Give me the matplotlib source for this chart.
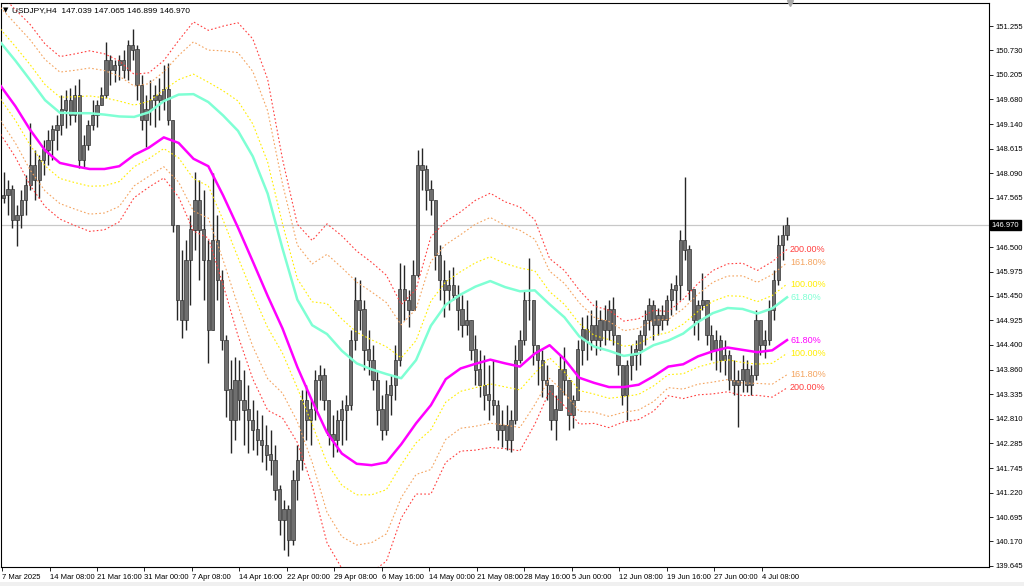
import numpy as np
import matplotlib.pyplot as plt
import matplotlib.transforms as mtransforms
from matplotlib.patches import Rectangle

plt.rcParams['font.family'] = ['Liberation Sans', 'DejaVu Sans']

# USDJPY H4, drawn as candles of 3 H4 bars each
first_open = 147.55
highs = [148.11, 147.94, 147.83, 147.40, 147.73, 148.05, 149.17, 148.59, 148.48, 148.80,
         149.02, 149.12, 149.34, 149.77, 149.88, 149.92, 149.98, 150.11, 148.91, 149.23,
         149.66, 149.66, 149.94, 150.91, 150.63, 150.52, 150.63, 150.74, 150.95, 151.19,
         150.84, 150.20, 149.77, 150.09, 149.98, 150.13, 150.41, 150.46, 149.23, 146.87,
         146.44, 146.65, 147.19, 148.11, 147.94, 147.73, 146.65, 148.09, 147.19, 146.01,
         144.61, 144.07, 144.13, 144.07, 143.86, 143.53, 143.21, 143.00, 142.89, 142.67,
         142.57, 142.24, 141.38, 141.06, 140.95, 141.71, 142.24, 143.43, 143.53, 143.21,
         143.86, 143.96, 143.90, 143.21, 142.89, 143.00, 143.21, 143.32, 144.72, 145.85,
         145.79, 145.36, 144.72, 144.39, 143.86, 143.32, 143.64, 143.75, 144.39, 146.16,
         146.11, 145.58, 146.22, 148.59, 148.63, 148.26, 147.94, 147.51, 146.54, 146.22,
         146.01, 146.07, 145.68, 145.47, 145.36, 144.93, 144.61, 144.29, 144.18, 143.96,
         144.07, 143.21, 143.00, 143.10, 143.00, 144.39, 144.72, 145.58, 146.26, 145.36,
         144.39, 144.29, 143.96, 143.53, 143.32, 144.18, 144.35, 143.64, 143.32, 144.50,
         144.99, 145.04, 145.15, 145.36, 145.15, 145.25, 145.36, 145.42, 144.61, 143.96,
         144.07, 144.39, 144.50, 144.72, 145.15, 145.40, 145.36, 145.19, 145.25, 145.47,
         145.73, 145.90, 146.87, 148.01, 146.54, 145.58, 145.36, 145.94, 145.36, 144.82,
         144.72, 144.61, 144.50, 144.29, 144.07, 143.86, 144.18, 144.07, 143.96, 145.15,
         144.93, 144.72, 145.36, 146.01, 146.76, 146.97, 147.14]
lows = [147.45, 147.19, 146.91, 146.52, 146.91, 147.19, 147.73, 147.51, 147.55, 148.05,
        148.26, 148.37, 148.59, 148.91, 149.06, 149.12, 149.19, 148.20, 148.20, 148.59,
        149.02, 149.08, 149.55, 149.70, 149.98, 150.05, 150.09, 150.13, 150.09, 150.52,
        149.66, 149.02, 148.65, 149.12, 149.08, 149.23, 149.45, 149.12, 146.82, 144.93,
        144.54, 144.72, 145.25, 146.44, 145.79, 145.36, 144.01, 144.72, 145.36, 144.29,
        142.84, 142.07, 142.35, 142.78, 142.24, 142.07, 142.14, 142.03, 141.88, 141.71,
        141.60, 141.06, 140.31, 139.99, 139.86, 140.09, 141.06, 141.71, 142.35, 142.24,
        142.78, 143.21, 143.00, 142.24, 141.98, 142.09, 142.24, 142.35, 143.00, 144.29,
        144.72, 143.86, 143.75, 143.43, 142.67, 142.35, 142.46, 142.89, 143.21, 143.95,
        144.93, 144.78, 145.15, 145.85, 147.73, 147.30, 147.19, 146.01, 145.36, 144.99,
        145.15, 145.36, 144.72, 144.56, 144.61, 144.07, 143.53, 143.27, 143.00, 142.78,
        142.89, 142.35, 142.20, 142.14, 142.09, 142.70, 144.01, 144.39, 144.93, 143.96,
        143.53, 143.27, 143.21, 142.57, 142.35, 143.00, 143.32, 142.57, 142.61, 143.21,
        143.96, 144.07, 144.29, 144.18, 144.29, 144.39, 144.50, 144.39, 143.75, 143.10,
        142.78, 143.64, 143.86, 143.96, 144.39, 144.72, 144.50, 144.61, 144.72, 144.82,
        145.04, 145.15, 145.36, 146.22, 145.36, 144.61, 144.50, 145.15, 144.39, 144.07,
        143.86, 143.81, 143.75, 143.43, 143.32, 142.63, 143.38, 143.38, 143.32, 143.64,
        144.18, 144.11, 144.39, 144.93, 145.68, 146.22, 146.65]
closes = [147.62, 147.73, 147.08, 147.19, 147.51, 147.83, 148.26, 147.94, 148.37, 148.59,
          148.80, 149.02, 149.12, 149.45, 149.66, 149.34, 149.77, 148.37, 148.69, 149.12,
          149.34, 149.55, 149.77, 150.52, 150.31, 150.41, 150.52, 150.31, 150.84, 150.74,
          149.98, 149.23, 149.45, 149.66, 149.77, 149.66, 149.88, 149.23, 146.97, 145.36,
          144.93, 146.22, 146.87, 147.51, 146.87, 146.22, 144.72, 146.65, 145.79, 144.50,
          143.43, 142.78, 143.64, 143.21, 143.00, 142.78, 142.57, 142.35, 142.24, 142.03,
          141.92, 141.28, 140.63, 140.85, 140.20, 141.49, 141.92, 143.21, 142.78, 143.00,
          143.64, 143.75, 143.21, 142.46, 142.35, 142.78, 143.00, 143.10, 144.50, 145.36,
          145.15, 144.29, 144.07, 143.64, 143.00, 142.57, 143.32, 143.53, 144.07, 145.58,
          145.36, 145.15, 145.90, 148.26, 148.16, 147.73, 147.51, 146.33, 145.79, 145.58,
          145.68, 145.47, 145.15, 144.82, 144.93, 144.29, 143.86, 143.53, 143.32, 143.21,
          143.10, 142.57, 142.67, 142.35, 142.78, 144.07, 144.50, 145.36, 145.36, 144.39,
          144.07, 143.64, 143.53, 142.78, 143.00, 143.86, 143.64, 142.89, 143.21, 144.29,
          144.72, 144.50, 144.82, 144.50, 144.93, 144.72, 145.15, 144.61, 143.96, 143.32,
          143.96, 144.18, 144.29, 144.61, 144.93, 145.25, 144.82, 145.04, 144.93, 145.36,
          145.58, 145.68, 146.65, 146.44, 145.58, 144.93, 145.25, 145.36, 144.61, 144.29,
          144.50, 144.07, 144.18, 143.64, 143.53, 143.64, 143.86, 143.53, 143.75, 144.93,
          144.39, 144.50, 145.15, 145.79, 146.54, 146.76, 146.97]
last_price = 146.970

# moving-average channel lines (bar index, price)
ma_idx = list(range(-1, 530, 10))
ma_upper = [150.90, 150.51, 150.09, 149.66, 149.39, 149.38, 149.38, 149.35, 149.31, 149.30,
            149.40, 149.64, 149.78, 149.79, 149.62, 149.33, 149.00, 148.45, 147.65, 146.47,
            145.37, 144.82, 144.63, 144.27, 144.00, 143.87, 143.77, 143.68, 144.07, 144.81,
            145.26, 145.48, 145.65, 145.77, 145.64, 145.55, 145.57, 145.27, 144.99, 144.58,
            144.36, 144.27, 144.16, 144.21, 144.39, 144.49, 144.64, 144.89, 145.08, 145.19,
            145.17, 145.07, 145.18, 145.42]
ma_lower = [149.97, 149.53, 149.02, 148.58, 148.31, 148.24, 148.18, 148.18, 148.24, 148.48,
            148.64, 148.86, 148.74, 148.40, 148.24, 147.61, 146.92, 146.19, 145.45, 144.75,
            143.92, 143.19, 142.51, 142.06, 141.84, 141.81, 141.87, 142.26, 142.71, 143.10,
            143.66, 143.89, 143.99, 144.08, 144.00, 143.93, 144.21, 144.39, 144.09, 143.69,
            143.58, 143.49, 143.49, 143.54, 143.72, 143.93, 143.98, 144.15, 144.26, 144.34,
            144.29, 144.24, 144.28, 144.50]
fib_levels = [1.0, 1.618, 2.0]
fib_names = ['100.00%', '161.80%', '200.00%']
fib_colors = ['#ffee00', '#f4a460', '#ff4040']

date_ticks = list(range(0, 513, 32))
date_labels = ['7 Mar 2025', '14 Mar 08:00', '21 Mar 16:00', '31 Mar 00:00', '7 Apr 08:00',
               '14 Apr 16:00', '22 Apr 00:00', '29 Apr 08:00', '6 May 16:00', '14 May 00:00',
               '21 May 08:00', '28 May 16:00', '5 Jun 00:00', '12 Jun 08:00', '19 Jun 16:00',
               '27 Jun 00:00', '4 Jul 08:00']
price_ticks = [151.255, 150.730, 150.205, 149.680, 149.140, 148.615, 148.090, 147.565,
               146.500, 145.975, 145.450, 144.925, 144.400, 143.860, 143.335, 142.810,
               142.285, 141.745, 141.220, 140.695, 140.170, 139.645]

fig = plt.figure(figsize=(10.24, 5.86), dpi=100)
fig.patches.append(Rectangle((0, 0), 1, 4 / 586, transform=fig.transFigure,
                             fc='#f0f0f0', ec='none'))
ax = fig.add_axes([1 / 1024, 1 - 567 / 586, 988 / 1024, 564 / 586])
ax.set_xlim(-0.7, 665.1)
ax.set_ylim(139.62, 151.75)

# candles
c = np.array(closes)
o = np.concatenate([[first_open], c[:-1]])
h = np.maximum(np.array(highs), np.maximum(o, c))
l = np.minimum(np.array(lows), np.minimum(o, c))
pos = np.arange(len(c)) * 3 + 1
ax.axhline(last_price, color='#c8c8c8', lw=0.9, zorder=0.5)
ax.vlines(pos, l, h, color='#262626', lw=1.0, zorder=2)
ax.bar(pos, np.abs(c - o) + 0.01, bottom=np.minimum(o, c), width=2.2,
       color='#6f6f6f', edgecolor='#333333', linewidth=0.5, zorder=2.5)

# channel
up = np.array(ma_upper)
lo = np.array(ma_lower)
mid = (up + lo) / 2
half = (up - lo) / 2 / 0.618
for lev, name, col in zip(fib_levels, fib_names, fib_colors):
    for sgn in (1, -1):
        band = mid + sgn * lev * half
        ax.plot(ma_idx, band, color=col, lw=0.8, ls=(0, (1.5, 2.0)), zorder=3)
        ax.text(531, band[-1], name, color=col, fontsize=6.5, va='center', ha='left')
ax.plot(ma_idx, up, color='#7fffd4', lw=1.8, zorder=3.5)
ax.plot(ma_idx, lo, color='#ff00ff', lw=1.8, zorder=3.5)
ax.text(531, up[-1], '61.80%', color='#7fffd4', fontsize=6.5, va='center', ha='left')
ax.text(531, lo[-1], '61.80%', color='#ff00ff', fontsize=6.5, va='center', ha='left')

# axes styling
for sp in ax.spines.values():
    sp.set_color('black')
    sp.set_linewidth(0.8)
ax.yaxis.tick_right()
ax.set_yticks(price_ticks)
ax.set_yticklabels(['%.3f' % p for p in price_ticks])
ax.tick_params(axis='y', direction='out', length=3, width=0.6, labelsize=5.5, pad=2)
ax.set_xticks(date_ticks)
ax.set_xticklabels(date_labels, ha='left')
ax.tick_params(axis='x', direction='out', length=3, width=0.6, labelsize=5.5, pad=2)

tr = mtransforms.blended_transform_factory(ax.transAxes, ax.transData)
ax.text(1.003, last_price, '146.970', transform=tr, color='white', fontsize=5.5,
        va='center', ha='left',
        bbox=dict(boxstyle='square,pad=0.2', fc='black', ec='black'))

ax.text(0.002, 0.992, '\u25bc', transform=ax.transAxes, fontsize=5, va='top', ha='left',
        family=['DejaVu Sans'])
ax.text(0.011, 0.993, 'USDJPY,H4  147.039 147.065 146.899 146.970', transform=ax.transAxes,
        fontsize=6, va='top', ha='left')
ax.plot([531], [151.75], marker='v', ms=4, color='#a8a8a8', clip_on=False, zorder=5)

fig.savefig('out.png', dpi=100)
